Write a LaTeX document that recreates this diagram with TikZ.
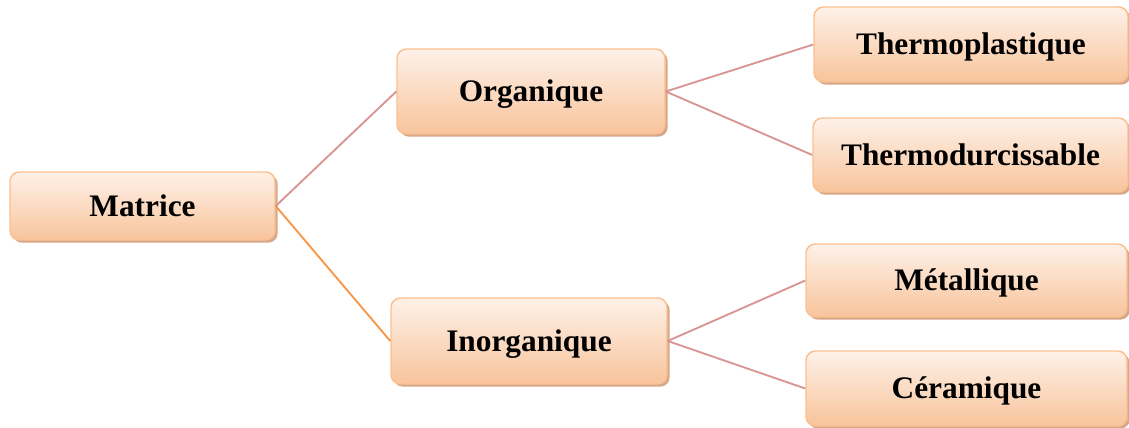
\documentclass[tikz,border=0pt]{standalone}
\usepackage{fontspec}
\setmainfont{Liberation Serif}
\usetikzlibrary{shadows}
\definecolor{peach_light}{HTML}{FEF1E8}
\definecolor{peach_dark}{HTML}{F8C49C}
\definecolor{peach_border}{HTML}{FAC090}
\definecolor{shadow_tan}{HTML}{D5A88A}
\definecolor{rose_line}{HTML}{D99594}
\definecolor{orange_line}{HTML}{F79646}

\begin{document}
\begin{tikzpicture}[x=0.75pt,y=-0.75pt,
    boite/.style={draw=peach_border, line width=1.1pt, rounded corners=7pt,
        top color=peach_light, bottom color=peach_dark,
        drop shadow={shadow xshift=2pt,shadow yshift=-2pt,fill=shadow_tan,opacity=1},
        inner sep=0pt, text height=15.5pt, text depth=0pt,
        font=\bfseries\fontsize{23.5}{28}\selectfont},
    lien/.style={line width=1.4pt}]

        % Cadre de la figure
        \useasboundingbox (0,0) rectangle (1129,428);

        % Les boites du schema
        \node[boite, minimum width=198.75pt, minimum height=51pt] (matrice) at (142.5,206) {Matrice};
        \node[boite, minimum width=201pt, minimum height=63.75pt] (organique) at (531,91.5) {Organique};
        \node[boite, minimum width=207pt, minimum height=64.5pt] (inorganique) at (529,341) {Inorganique};
        \node[boite, minimum width=235.5pt, minimum height=56.25pt] (thermoplast) at (971,44.5) {Thermoplastique};
        \node[boite, minimum width=236.25pt, minimum height=55.5pt] (thermodurc) at (970.5,155) {Thermodurcissable};
        \node[boite, minimum width=240.75pt, minimum height=54.75pt] (metal) at (966.5,280.5) {Métallique};
        \node[boite, minimum width=240.75pt, minimum height=56.25pt] (ceram) at (966.5,388.5) {Céramique};

        % Les liens entre les boites
        \draw[lien, rose_line] (matrice.east) -- (organique.west);
        \draw[lien, orange_line] (matrice.east) -- (inorganique.west);
        \draw[lien, rose_line] (organique.east) -- (thermoplast.west);
        \draw[lien, rose_line] (organique.east) -- (thermodurc.west);
        \draw[lien, rose_line] (inorganique.east) -- (metal.west);
        \draw[lien, rose_line] (inorganique.east) -- (ceram.west);
    \end{tikzpicture}
\end{document}
